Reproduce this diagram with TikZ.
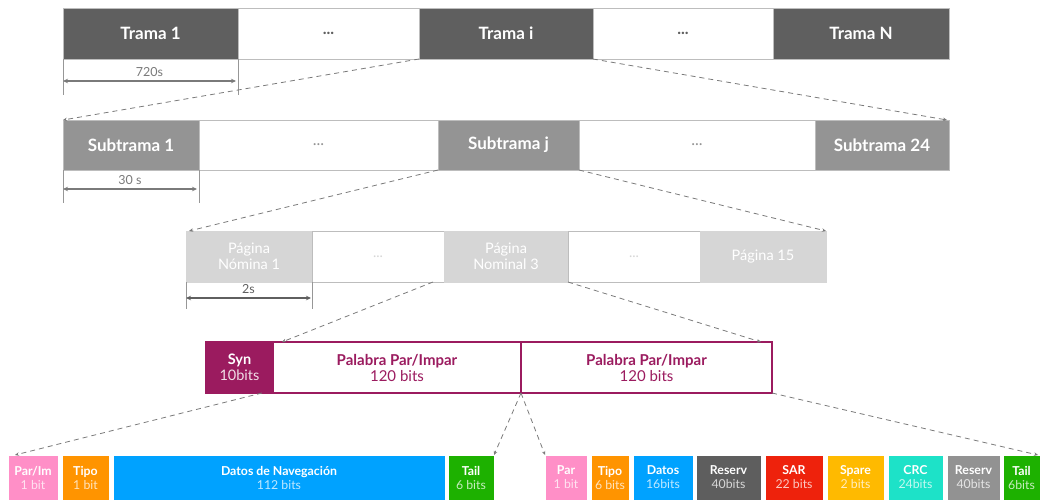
\documentclass[tikz,border=0pt]{standalone}
\usepackage{fontspec}
\setmainfont{Lato}
\usetikzlibrary{arrows.meta}

\definecolor{tramaC}{HTML}{5F5F5F}
\definecolor{subC}{HTML}{949494}
\definecolor{pagC}{HTML}{D6D6D6}
\definecolor{synC}{HTML}{9B1B5F}
\definecolor{pinkC}{HTML}{FF8FC7}
\definecolor{orangeC}{HTML}{FF9400}
\definecolor{blueC}{HTML}{00A2FF}
\definecolor{greenC}{HTML}{1DB100}
\definecolor{darkC}{HTML}{5E5E5E}
\definecolor{redC}{HTML}{EE220C}
\definecolor{yellowC}{HTML}{FFBA00}
\definecolor{cyanC}{HTML}{1DE2C8}
\definecolor{grayC}{HTML}{929292}
\definecolor{lineC}{HTML}{BDBDBD}
\definecolor{dimC}{HTML}{7A7A7A}

\tikzset{
  cell/.style={anchor=north west, inner sep=0pt, outer sep=0pt, align=center},
  trama/.style={cell, fill=tramaC, draw=lineC, line width=0.6pt, minimum height=51pt,
    text=white, font=\fontsize{17}{20}\selectfont\bfseries},
  sub/.style={cell, fill=subC, draw=lineC, line width=0.6pt, minimum height=50pt,
    text=white, font=\fontsize{17}{20}\selectfont\bfseries},
  pag/.style={cell, fill=pagC, draw=pagC, line width=0.6pt, minimum height=51pt,
    text=white, font=\fontsize{14.5}{17}\selectfont},
  blank/.style={cell, fill=white, draw=lineC, line width=0.8pt},
  word/.style={cell, fill=white, draw=synC, line width=2pt, minimum height=51pt,
    text=synC, font=\fontsize{15}{17}\selectfont},
  field/.style={cell, minimum height=45pt, text=white, draw=white, line width=0.5pt,
    font=\fontsize{12.3}{15}\selectfont},
  link/.style={draw=dimC, line width=0.8pt, dash pattern=on 5pt off 4pt,
    -{Stealth[length=4pt,width=3.5pt]}},
  tick/.style={draw=lineC!80!black, line width=0.8pt},
  span/.style={draw=dimC, line width=1.1pt,
    {Stealth[length=5pt,width=4.5pt]}-{Stealth[length=5pt,width=4.5pt]}},
  spanlabel/.style={text=dimC, font=\fontsize{12.5}{15}\selectfont, inner sep=0pt},
}

\begin{document}
\begin{tikzpicture}[x=1pt,y=-1pt]
\useasboundingbox (0,0) rectangle (1041,503);

% ---- frames ----
\node[trama, minimum width=175pt] (t1) at (63,8) {Trama 1};
\node[blank, minimum width=181pt, minimum height=51pt, text=tramaC,
  font=\fontsize{16}{18}\selectfont\bfseries] (td1) at (238,8) {...};
\node[trama, minimum width=174pt] (ti) at (419,8) {Trama i};
\node[blank, minimum width=180pt, minimum height=51pt, text=tramaC,
  font=\fontsize{16}{18}\selectfont\bfseries] (td2) at (593,8) {...};
\node[trama, minimum width=176pt] (tN) at (773,8) {Trama N};

% frame duration
\draw[tick] (t1.south west) -- ++(0,36) coordinate (t1d);
\draw[tick] (t1.south east) -- ++(0,36) coordinate (t1e);
\coordinate (t1a) at (63,81);
\coordinate (t1b) at (236,81);
\draw[span] (t1a) -- (t1b) node[spanlabel, midway, yshift=9pt] (t1lab) {720s};

% ---- subframes ----
\node[sub, minimum width=136pt] (s1) at (63,120) {Subtrama 1};
\node[blank, minimum width=239pt, minimum height=50pt, text=subC,
  font=\fontsize{16}{18}\selectfont] (sd1) at (199,120) {...};
\node[sub, minimum width=141pt] (sj) at (438,120) {Subtrama j};
\node[blank, minimum width=236pt, minimum height=50pt, text=subC,
  font=\fontsize{16}{18}\selectfont] (sd2) at (579,120) {...};
\node[sub, minimum width=134pt] (s24) at (815,120) {Subtrama 24};

\draw[tick] (s1.south west) -- ++(0,33) coordinate (s1d);
\draw[tick] (s1.south east) -- ++(0,33) coordinate (s1e);
\coordinate (s1a) at (63,189);
\coordinate (s1b) at (197,189);
\draw[span] (s1a) -- (s1b) node[spanlabel, midway, yshift=9pt] (s1lab) {30 s};

% ---- pages ----
\node[pag, minimum width=126pt] (p1) at (186,231) {Página\\[-1pt]Nómina 1};
\node[blank, minimum width=132pt, minimum height=51pt, text=pagC,
  font=\fontsize{14}{17}\selectfont] (pd1) at (312,231) {...};
\node[pag, minimum width=124pt] (p3) at (444,231) {Página\\[-1pt]Nominal 3};
\node[blank, minimum width=132pt, minimum height=51pt, text=pagC,
  font=\fontsize{14}{17}\selectfont] (pd2) at (568,231) {...};
\node[pag, minimum width=126pt] (p15) at (700,231) {Página 15};

\draw[tick] (p1.south west) -- ++(0,27) coordinate (p1d);
\draw[tick] (p1.south east) -- ++(0,27) coordinate (p1e);
\coordinate (p1a) at (186,298);
\coordinate (p1b) at (311,298);
\draw[span, draw=tramaC] (p1a) -- (p1b) node[spanlabel, midway, yshift=9pt, text=tramaC] (p1lab) {2s};

% ---- page content ----
\node[cell, fill=synC, draw=synC, line width=2pt, minimum width=67pt, minimum height=51pt,
  text=white, font=\fontsize{14.5}{17}\selectfont] (syn) at (206,342)
  {\textbf{Syn}\\[-1pt]{\color{white!85!synC}10bits}};
\node[word, minimum width=248pt] (w1) at (273,342)
  {\textbf{Palabra Par/Impar}\\[-1pt]120 bits};
\node[word, minimum width=251pt] (w2) at (521,342)
  {\textbf{Palabra Par/Impar}\\[-1pt]120 bits};

% ---- even word fields ----
\node[field, fill=pinkC, minimum width=50pt] (a1) at (8,455)
  {\textbf{Par/Im}\\[-1pt]{\color{white!75!pinkC}1 bit}};
\node[field, fill=orangeC, minimum width=47pt] (a2) at (62,455)
  {\textbf{Tipo}\\[-1pt]{\color{white!75!orangeC}1 bit}};
\node[field, fill=blueC, minimum width=332pt] (a3) at (113,455)
  {\textbf{Datos de Navegación}\\[-1pt]{\color{white!75!blueC}112 bits}};
\node[field, fill=greenC, minimum width=46pt] (a4) at (448,455)
  {\textbf{Tail}\\[-1pt]{\color{white!75!greenC}6 bits}};

% ---- odd word fields ----
\node[field, fill=pinkC, minimum width=42pt] (b1) at (545,455)
  {\textbf{Par}\\[-1pt]{\color{white!75!pinkC}1 bit}};
\node[field, fill=orangeC, minimum width=38pt] (b2) at (591,455)
  {\textbf{Tipo}\\[-1pt]{\color{white!75!orangeC}6 bits}};
\node[field, fill=blueC, minimum width=60pt] (b3) at (633,455)
  {\textbf{Datos}\\[-1pt]{\color{white!75!blueC}16bits}};
\node[field, fill=darkC, minimum width=65pt] (b4) at (696,455)
  {\textbf{Reserv}\\[-1pt]{\color{white!75!darkC}40bits}};
\node[field, fill=redC, minimum width=58pt] (b5) at (765,455)
  {\textbf{SAR}\\[-1pt]{\color{white!75!redC}22 bits}};
\node[field, fill=yellowC, minimum width=57pt] (b6) at (827,455)
  {\textbf{Spare}\\[-1pt]{\color{white!75!yellowC}2 bits}};
\node[field, fill=cyanC, minimum width=55pt] (b7) at (888,455)
  {\textbf{CRC}\\[-1pt]{\color{white!75!cyanC}24bits}};
\node[field, fill=grayC, minimum width=53pt] (b8) at (947,455)
  {\textbf{Reserv}\\[-1pt]{\color{white!75!grayC}40bits}};
\node[field, fill=greenC, minimum width=37pt] (b9) at (1003,455)
  {\textbf{Tail}\\[-1pt]{\color{white!75!greenC}6bits}};

% ---- zoom connectors ----
\draw[link] (ti.south west) -- (s1.north west);
\draw[link] (td2.south west) -- ([xshift=-2pt]s24.north east);
\draw[link] (sj.south west) -- ([xshift=3pt]p1.north west);
\draw[link] (sd2.south west) -- (p15.north east);
\draw[link] ([xshift=-11pt]p3.south west) -- ([xshift=9pt]w1.north west);
\draw[link] (pd2.south west) -- ([xshift=-11pt]w2.north east);
\draw[link] ([xshift=-11pt]syn.south east) -- ([xshift=7pt]a1.north west);
\draw[link] (w1.south east) -- (a4.north east);
\draw[link] (w1.south east) -- (b1.north west);
\draw[link] (w2.south east) -- ([xshift=-2pt]b9.north east);
\end{tikzpicture}
\end{document}
